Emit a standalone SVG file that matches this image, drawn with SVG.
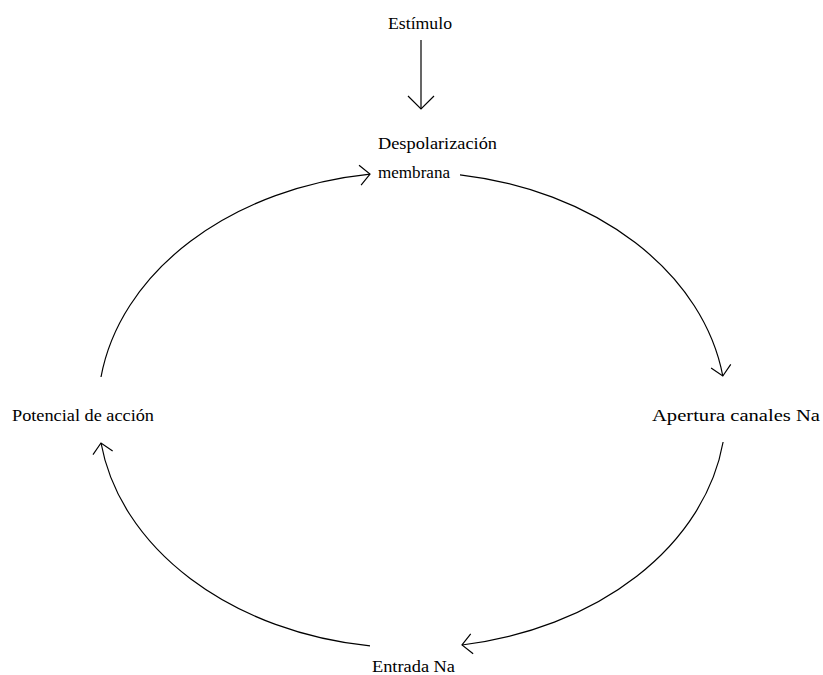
<svg xmlns="http://www.w3.org/2000/svg" width="823" height="675" viewBox="0 0 823 675">
<style>
text{font-family:"Liberation Serif","Times New Roman",serif;font-size:16px;fill:#000}
.c{fill:none;stroke:#000;stroke-width:1.2}
</style>
<defs>
<marker id="ah" markerUnits="userSpaceOnUse" markerWidth="30" markerHeight="30" refX="0" refY="0" viewBox="-15 -15 30 30" orient="auto" overflow="visible">
<path d="M-10,-10 L0,0 L-10,10" fill="none" stroke="#000" stroke-width="1.2"/>
</marker>
<marker id="ahb" markerUnits="userSpaceOnUse" markerWidth="30" markerHeight="30" refX="0" refY="0" viewBox="-15 -15 30 30" orient="auto" overflow="visible">
<path d="M-13,-13 L0,0 L-13,13" fill="none" stroke="#000" stroke-width="1.2"/>
</marker>
</defs>
<rect width="823" height="675" fill="#fff"/>
<g id="estimulo"><text x="388" y="29" textLength="64" lengthAdjust="spacingAndGlyphs">Estímulo</text></g>
<g id="despolarizacion"><text x="378" y="149" textLength="119" lengthAdjust="spacingAndGlyphs">Despolarización</text><text x="378" y="178" textLength="72" lengthAdjust="spacingAndGlyphs">membrana</text></g>
<g id="apertura"><text x="652" y="421" textLength="168" lengthAdjust="spacingAndGlyphs">Apertura canales Na</text></g>
<g id="entrada"><text x="372" y="672" textLength="83" lengthAdjust="spacingAndGlyphs">Entrada Na</text></g>
<g id="potencial"><text x="12" y="421" textLength="142" lengthAdjust="spacingAndGlyphs">Potencial de acción</text></g>
<g id="connectors">
<path class="c" d="M421,40 L421,109" marker-end="url(#ahb)"/>
<path class="c" d="M460,174.8 A314,238 0 0 1 722.8,376" marker-end="url(#ah)"/>
<path class="c" d="M723.1,442 A314,238 0 0 1 462,645" marker-end="url(#ah)"/>
<path class="c" d="M370,645.9 A314,238 0 0 1 101,443" marker-end="url(#ah)"/>
<path class="c" d="M101,377 A314,238 0 0 1 370,174.1" marker-end="url(#ah)"/>
</g>
</svg>
